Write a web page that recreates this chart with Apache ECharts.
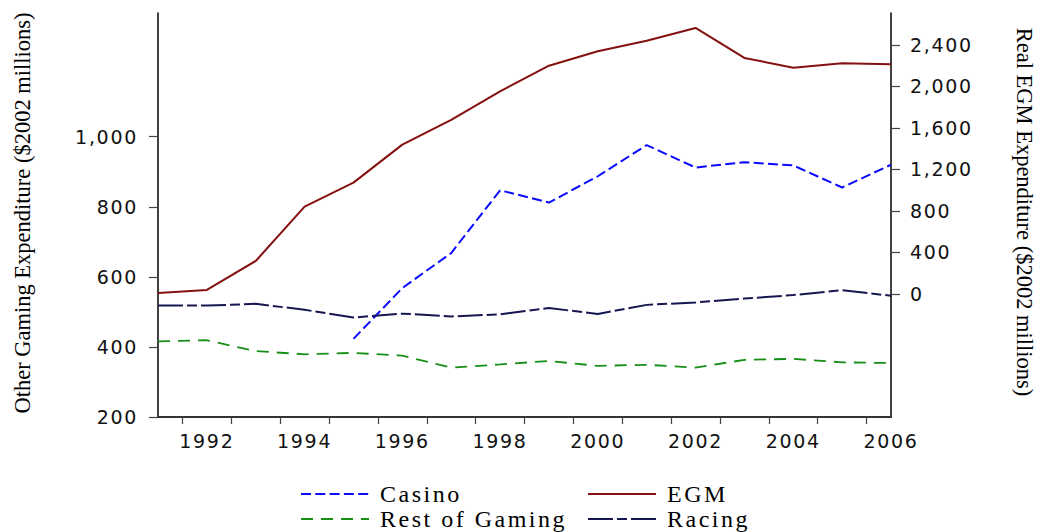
<!DOCTYPE html>
<html>
<head>
<meta charset="utf-8">
<script src="https://cdn.jsdelivr.net/npm/echarts@6/dist/echarts.min.js"></script>
<style>
html,body{margin:0;padding:0;background:#fff}
#c{width:1041px;height:532px}
#c text[style*="DejaVu"]{letter-spacing:1.7px}
#c text[style*="24px"]{letter-spacing:2.5px}
</style>
</head>
<body>
<div id="c"></div>
<script>
// ---- data ----
const years = [1991,1992,1993,1994,1995,1996,1997,1998,1999,2000,2001,2002,2003,2004,2005,2006];
const casinoYears = [1995,1996,1997,1998,1999,2000,2001,2002,2003,2004,2005,2006];
const casino = [423,568,668,847,812,887,976,912,927,918,855,920];
const egm = [10,39,318,841,1073,1439,1677,1953,2200,2339,2441,2564,2275,2181,2223,2213];
const restOfGaming = [416,419,388,379,383,375,341,350,360,346,349,341,363,366,356,354];
const racing = [518,518,523,506,484,495,487,493,511,494,520,527,538,548,562,546];
const xTickValues = [1991.5,1992.5,1993.5,1994.5,1995.5,1996.5,1997.5,1998.5,1999.5,2000.5,2001.5,2002.5,2003.5,2004.5,2005.5];
const xLabelValues = [1992,1994,1996,1998,2000,2002,2004,2006];
const leftTicks = [200,400,600,800,1000];
const rightTicks = [0,400,800,1200,1600,2000,2400];
const leftTitle = 'Other Gaming Expenditure ($2002 millions)';
const rightTitle = 'Real EGM Expenditure ($2002 millions)';

const pair = (xs, ys) => xs.map((x, i) => [x, ys[i]]);
const fmt = v => Number(v).toLocaleString('en-US');

const chart = echarts.init(document.getElementById('c'), null, { renderer: 'svg' });
const axisFont = { fontFamily: 'DejaVu Sans', fontSize: 19, color: '#111' };
const legFont = { fontFamily: 'Liberation Serif', fontSize: 24, color: '#000', padding: [0,0,0,6] };

function leg(name, left, top) {
  return { data: [name], left: left, top: top, orient: 'horizontal', itemWidth: 68, itemHeight: 14,
    itemStyle: { opacity: 0, borderWidth: 0 },
    textStyle: legFont, selectedMode: false, padding: 0 };
}

chart.setOption({
  animation: false,
  backgroundColor: '#fff',
  grid: { left: 158, right: 150, top: 13, bottom: 115, containLabel: false },
  xAxis: {
    type: 'value', min: 1991, max: 2006,
    axisLine: { onZero: false, lineStyle: { color: '#333', width: 2 } },
    axisTick: { customValues: xTickValues, length: 7, lineStyle: { color: '#444', width: 1.2 } },
    axisLabel: { customValues: xLabelValues, formatter: v => String(v), margin: 14, ...axisFont },
    splitLine: { show: false }
  },
  yAxis: [
    {
      type: 'value', position: 'left', min: 200, max: 1353,
      axisLine: { show: true, onZero: false, lineStyle: { color: '#000', width: 1.5 } },
      axisTick: { show: true, customValues: leftTicks, length: 9, lineStyle: { color: '#444', width: 1.2 } },
      axisLabel: { customValues: leftTicks, formatter: fmt, margin: 20, ...axisFont },
      splitLine: { show: false }
    },
    {
      type: 'value', position: 'right', min: -1186, max: 2708,
      axisLine: { show: true, onZero: false, lineStyle: { color: '#000', width: 1.5 } },
      axisTick: { show: true, customValues: rightTicks, length: 9, lineStyle: { color: '#444', width: 1.2 } },
      axisLabel: { customValues: rightTicks, formatter: fmt, margin: 19, ...axisFont },
      splitLine: { show: false }
    }
  ],
  legend: [
    leg('Casino', 300, 482),
    leg('EGM', 587, 482),
    leg('Rest of Gaming', 300, 507),
    leg('Racing', 587, 507)
  ],
  graphic: [
    { type: 'text', x: 22, y: 213, rotation: Math.PI / 2,
      style: { text: leftTitle, font: '22.5px "Liberation Serif"', fill: '#000', align: 'center', verticalAlign: 'middle' } },
    { type: 'text', x: 1024, y: 212, rotation: -Math.PI / 2,
      style: { text: rightTitle, font: '22.5px "Liberation Serif"', fill: '#000', align: 'center', verticalAlign: 'middle' } }
  ],
  series: [
    { name: 'Casino', type: 'line', yAxisIndex: 0, data: pair(casinoYears, casino), symbol: 'none',
      lineStyle: { color: '#0a0aff', width: 2, type: [10, 4.3] }, itemStyle: { color: '#0a0aff' } },
    { name: 'EGM', type: 'line', yAxisIndex: 1, data: pair(years, egm), symbol: 'none',
      lineStyle: { color: '#851010', width: 2, type: 'solid' }, itemStyle: { color: '#851010' } },
    { name: 'Rest of Gaming', type: 'line', yAxisIndex: 0, data: pair(years, restOfGaming), symbol: 'none',
      lineStyle: { color: '#178f17', width: 1.8, type: [12, 8] }, itemStyle: { color: '#178f17' } },
    { name: 'Racing', type: 'line', yAxisIndex: 0, data: pair(years, racing), symbol: 'none',
      lineStyle: { color: '#161650', width: 2, type: [25, 4, 10, 4] }, itemStyle: { color: '#161650' } }
  ]
});
</script>
</body>
</html>
